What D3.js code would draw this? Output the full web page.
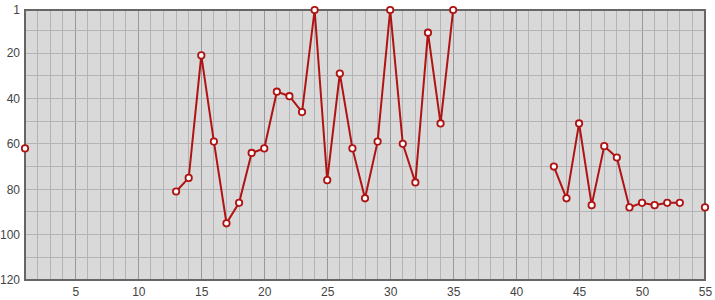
<!DOCTYPE html>
<html>
<head>
<meta charset="utf-8">
<script src="https://cdn.jsdelivr.net/npm/d3@7"></script>
<style>
  body { margin: 0; background: #fff; }
  text { font-family: "Liberation Sans", Arial, sans-serif; font-size: 12px; fill: #444; }
</style>
</head>
<body>
<div id="chart"></div>
<script>
// data: position (x) -> rank (y), null where there is no value
const xs = d3.range(1, 56);
const ranks = [
  62, null, null, null, null, null, null, null, null, null,
  null, null, 81, 75, 21, 59, 95, 86, 64, 62,
  37, 39, 46, 1, 76, 29, 62, 84, 59, 1,
  60, 77, 11, 51, 1, null, null, null, null, null,
  null, null, 70, 84, 51, 87, 61, 66, 88, 86,
  87, 86, 86, null, 88
];
const xTicks = [5, 10, 15, 20, 25, 30, 35, 40, 45, 50, 55];
const yTicks = [1, 20, 40, 60, 80, 100, 120];

const width = 715;
const height = 300;
const margin = { top: 10, right: 10, bottom: 20, left: 25 };

const svg = d3.select("#chart")
  .append("svg")
  .attr("width", width)
  .attr("height", height);

const x = d3.scaleLinear()
  .domain([1, 55])
  .range([margin.left, width - margin.right]);

const y = d3.scaleLinear()
  .domain([1, 120])
  .range([margin.top, height - margin.bottom]);

svg.append("rect")
  .attr("x", x(1))
  .attr("y", y(1))
  .attr("width", x(55) - x(1))
  .attr("height", y(120) - y(1))
  .attr("fill", "#d9d9d9");

// grid
svg.append("g")
  .selectAll("line")
  .data(d3.range(2, 55))
  .join("line")
  .attr("x1", d => x(d)).attr("x2", d => x(d))
  .attr("y1", y(1)).attr("y2", y(120))
  .attr("stroke", d => d % 5 === 0 ? "#999" : "#b4b4b4")
  .attr("stroke-width", 1)
  .attr("shape-rendering", "crispEdges");

svg.append("g")
  .selectAll("line")
  .data(d3.range(10, 120, 10))
  .join("line")
  .attr("x1", x(1)).attr("x2", x(55))
  .attr("y1", d => y(d)).attr("y2", d => y(d))
  .attr("stroke", "#b4b4b4")
  .attr("stroke-width", 1)
  .attr("shape-rendering", "crispEdges");

svg.append("rect")
  .attr("x", x(1))
  .attr("y", y(1))
  .attr("width", x(55) - x(1))
  .attr("height", y(120) - y(1))
  .attr("fill", "none")
  .attr("stroke", "#666")
  .attr("stroke-width", 2);

// axes
const xAxis = svg.append("g")
  .attr("transform", `translate(0, ${y(120)})`)
  .call(d3.axisBottom(x).tickValues(xTicks).tickSize(0).tickPadding(6));
xAxis.select(".domain").remove();
xAxis.selectAll("text").attr("dy", "0.85em");

const yAxis = svg.append("g")
  .attr("transform", `translate(${x(1)}, 0)`)
  .call(d3.axisLeft(y).tickValues(yTicks).tickSize(0).tickPadding(5));
yAxis.select(".domain").remove();

// line
const data = xs.map((d, i) => ({ x: d, y: ranks[i] }));

svg.append("path")
  .datum(data)
  .attr("fill", "none")
  .attr("stroke", "#b01313")
  .attr("stroke-width", 2)
  .attr("d", d3.line()
    .defined(d => d.y !== null)
    .x(d => x(d.x))
    .y(d => y(d.y)));

svg.append("g")
  .selectAll("circle")
  .data(data.filter(d => d.y !== null))
  .join("circle")
  .attr("cx", d => x(d.x))
  .attr("cy", d => y(d.y))
  .attr("r", 3.2)
  .attr("fill", "#fff")
  .attr("stroke", "#b01313")
  .attr("stroke-width", 1.8);
</script>
</body>
</html>
